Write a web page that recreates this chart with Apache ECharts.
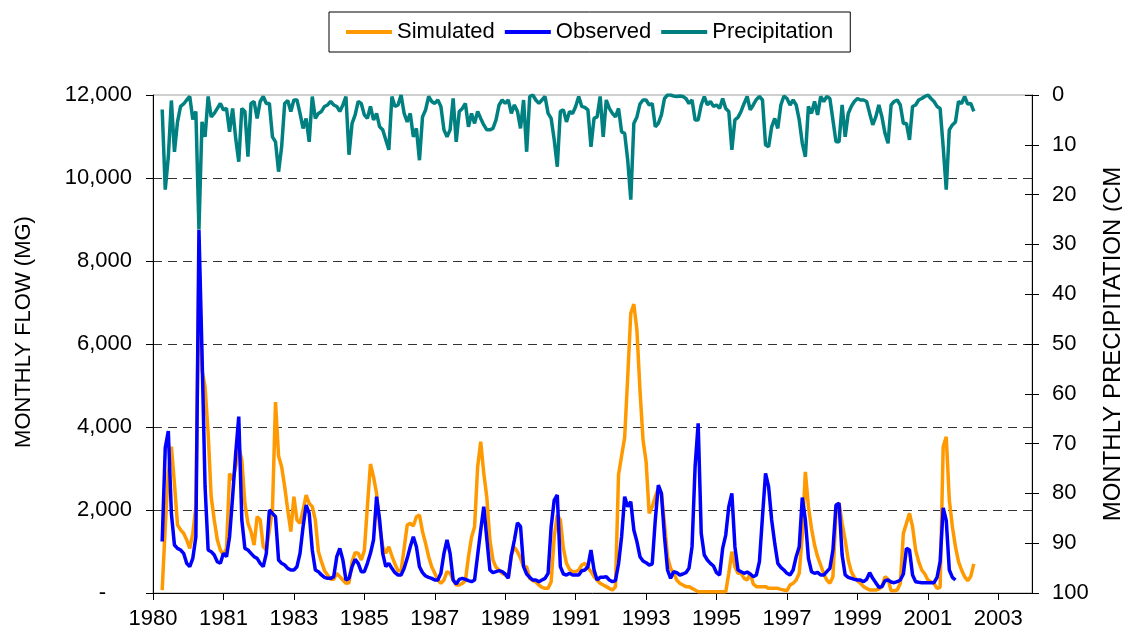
<!DOCTYPE html>
<html><head><meta charset="utf-8">
<script src="https://cdn.jsdelivr.net/npm/echarts@6/dist/echarts.min.js"></script>
<style>html,body{margin:0;padding:0;background:#fff}#c{width:1122px;height:636px}</style>
</head><body><div id="c"></div>
<script>
const seriesNames = ['Simulated', 'Observed', 'Precipitation'];
const baseYear = 1980;
const firstMonth = 3;               // months after Jan 1980 (April 1980)
const xTickMonths = [0, 23, 46, 69, 92, 115, 138, 161, 184, 207, 230, 253, 276];
const xMaxMonth = 287;

const simulated = [70,1600,2880,3525,2640,1640,1520,1440,1280,1076,1440,2080,7800,5370,4970,3850,2320,1760,1280,1036,915,1076,2880,2720,3040,3525,3200,2160,1680,1480,1156,1840,1760,1116,1036,1520,2000,4600,3300,3040,2560,2000,1480,2320,1760,1680,2000,2360,2160,2080,1760,1000,
755,538,434,329,329,474,393,313,233,249,755,972,956,795,1020,2080,3108,2800,2400,1600,1116,956,1116,891,699,538,538,1076,1638,1678,1614,1839,1879,1478,1196,875,634,474,313,233,313,514,474,313,193,193,233,297,875,1341,1598,3043,3645,2883,2300,
1277,795,618,554,474,434,393,915,1100,996,835,634,634,353,297,265,193,137,112,112,273,1357,1879,1759,1076,715,570,514,514,554,675,715,618,514,393,313,233,193,153,112,72,150,2850,3300,3750,5210,6740,6960,6335,4890,3686,3164,1919,2080,2320,2521,2400,1678,875,594,474,313,233,193,153,153,112,72,32,32,32,32,32,32,32,32,32,32,474,996,634,474,474,353,313,474,217,153,153,153,153,112,112,112,112,88,72,56,193,233,313,474,
1400,2920,2080,1558,1156,875,675,458,313,233,393,1919,2176,1678,1277,795,514,377,297,233,153,112,72,72,72,96,153,393,329,56,56,72,233,1437,1678,1919,1598,1036,755,554,458,313,273,233,112,137,3525,3766,2240,1598,1116,755,554,393,297,400,700];

const observed = [1240,3500,3900,1920,1156,1076,1036,956,715,634,835,1357,8750,5774,2562,1036,996,915,755,715,956,875,1357,2320,3365,4250,1759,1076,1036,956,875,835,715,634,956,2000,1919,1839,795,715,675,594,554,554,634,956,1598,2120,1919,1036,554,514,
434,377,353,353,393,875,1076,795,313,353,634,811,715,514,514,715,956,1277,2320,1760,956,634,715,594,490,434,434,594,835,1116,1357,1116,634,490,410,377,353,313,313,474,956,1277,956,313,217,329,353,329,297,273,313,915,1518,2080,1300,
554,490,514,538,514,458,353,915,1277,1694,1598,634,458,377,313,313,273,313,353,474,1598,2240,2361,634,458,434,474,434,434,434,538,554,634,1036,554,313,377,380,393,313,273,300,700,1357,2320,2080,2200,1518,1237,875,771,731,675,699,1759,2600,2400,1357,554,353,514,490,434,458,490,594,1116,3043,4087,1437,915,795,715,650,490,434,1076,1397,2080,2400,1116,554,514,474,506,458,393,434,755,1839,2883,2561,1759,1196,715,618,554,474,434,554,875,1116,
2300,1759,835,514,474,498,434,434,514,594,1036,2120,2160,915,434,377,353,329,313,313,273,329,490,353,249,137,153,297,313,265,249,273,313,458,1076,1036,434,273,257,249,249,249,249,249,377,755,2050,1750,554,377,313];

const precipitation = [2.9,19,12.4,1.1,11.4,5.4,2.3,1.8,1.0,0.3,4.9,3.3,27,5.4,8.4,0.3,4.4,3.7,2.7,1.7,3.0,2.7,7.4,2.7,8.7,13.4,2.7,3.3,12.4,1.7,1.3,4.7,1.3,0.3,1.7,1.7,8.4,9.4,15.4,10.4,1.7,1.1,3.3,1.0,1.0,3.7,6.7,4.7,9.4,0.3,4.7,3.7,
3.3,2.3,2.0,1.3,2.0,2.3,3.3,2.0,0.3,12.0,5.7,4.0,1.3,1.7,4.0,4.7,2.3,5.0,3.7,6.4,7.0,9.0,11.0,0.3,2.3,2.0,0,3.7,5.4,3.7,8.4,6.7,13.1,4.4,3.0,0.3,1.3,1.7,1.0,2.3,7.0,8.4,7.0,0.7,9.4,3.3,2.7,1.7,6.4,3.7,5.7,3.3,4.7,6.0,7.0,
7.0,6.7,5.0,2.0,1.0,1.7,1.0,3.7,2.0,3.3,6.7,1.0,11.4,0.3,0,1.0,1.7,1.0,0.3,3.7,4.7,9.0,14.4,3.3,3.0,5.4,3.3,3.7,2.3,0.3,2.3,2.5,3.0,10.4,4.7,4.4,0.3,8.4,1.0,2.7,3.7,4.4,2.7,7.4,7.7,13.1,21,5.7,4.4,1.8,1.0,1.0,2.0,1.7,6.4,5.7,4.0,0.7,0,0,0.2,0.3,0.2,0.3,0.7,1.7,1.0,5.0,5.0,2.0,0.3,2.0,1.3,2.3,2.0,2.7,0.7,2.7,3.3,11.0,5.0,4.5,3.3,1.7,0.3,3.0,2.0,0.9,0.3,1.0,10.0,10.4,6.4,4.7,6.7,2.0,0.2,0.7,2.0,1.0,2.0,5.0,
9.7,12.4,2.3,3.7,1.3,4.0,0.3,1.3,0.3,0.7,5.0,9.4,9.4,2.0,8.4,3.7,2.3,1.3,0.7,1.0,1.0,1.3,3.7,6.0,4.4,2.0,4.4,7.7,9.7,2.0,1.3,1.0,2.0,5.7,5.7,9.0,2.3,2.0,1.0,0.7,0.3,0,0.7,1.3,2.3,2.7,10.4,19,7.0,6.0,5.4,1.3,1.7,0.3,1.8,1.7,3.3];

const toPairs = arr => arr.map((v, k) => [firstMonth + k, v]);
const FONT = '"Liberation Sans", Arial, sans-serif';
const black = '#000';

const chart = echarts.init(document.getElementById('c'), null, {renderer: 'canvas'});
chart.setOption({
  animation: false,
  backgroundColor: '#fff',
  textStyle: {fontFamily: FONT},
  grid: {left: 153, right: 90, top: 95, bottom: 43, show: true, borderColor: '#a0a0a0', borderWidth: 1,
    containLabel: false, outerBoundsMode: 'none'},
  legend: {
    data: seriesNames, left: 329, top: 12, padding: [9, 17, 9, 17],
    borderColor: black, borderWidth: 1, itemWidth: 46, itemHeight: 4, itemGap: 10, icon: 'rect',
    textStyle: {fontSize: 22, color: black, fontFamily: FONT}
  },
  xAxis: {
    type: 'value', min: 0, max: xMaxMonth,
    axisLine: {lineStyle: {color: black, width: 1}},
    axisTick: {show: true, length: 7, lineStyle: {color: black}, customValues: xTickMonths},
    axisLabel: {customValues: xTickMonths, fontSize: 22, color: black, fontFamily: FONT, margin: 15,
      formatter: v => String(baseYear + Math.floor(v / 12))},
    splitLine: {show: false}
  },
  yAxis: [{
    type: 'value', min: 0, max: 12000, interval: 2000, position: 'left',
    name: 'MONTHLY FLOW (MG)', nameLocation: 'middle', nameGap: 118, nameRotate: 90,
    nameTextStyle: {fontSize: 22, color: black, fontFamily: FONT, padding: [0, 0, 0, 24]},
    axisLine: {show: true, lineStyle: {color: black, width: 1}},
    axisTick: {show: true, length: 7, lineStyle: {color: black}},
    axisLabel: {fontSize: 22, color: black, fontFamily: FONT, margin: 21,
      formatter: v => v === 0 ? '{d|-}' : v.toLocaleString('en-US'),
      rich: {d: {fontSize: 22, fontFamily: FONT, color: black, padding: [0, 26, 0, 0]}}},
    splitLine: {show: true, showMinLine: false, showMaxLine: false, lineStyle: {color: '#333', type: [9, 6], width: 1}}
  }, {
    type: 'value', min: 0, max: 100, interval: 10, inverse: true, position: 'right',
    name: 'MONTHLY PRECIPITATION (CM', nameLocation: 'middle', nameGap: 69, nameRotate: 90,
    nameTextStyle: {fontSize: 24, color: black, fontFamily: FONT},
    axisLine: {show: true, lineStyle: {color: black, width: 1}},
    axisTick: {show: true, length: 7, lineStyle: {color: black}},
    axisLabel: {fontSize: 22, color: black, fontFamily: FONT, margin: 20},
    splitLine: {show: false}
  }, {
    type: 'value', min: 0, max: 100, interval: 10, inverse: true, position: 'right',
    axisLine: {show: false},
    axisTick: {show: true, inside: true, length: 7, lineStyle: {color: black}},
    axisLabel: {show: false},
    splitLine: {show: false}
  }],
  series: [
    {name: seriesNames[0], type: 'line', data: toPairs(simulated), yAxisIndex: 0, showSymbol: false, symbol: 'none',
      lineStyle: {color: '#FF9900', width: 3.5}, itemStyle: {color: '#FF9900'}},
    {name: seriesNames[1], type: 'line', data: toPairs(observed), yAxisIndex: 0, showSymbol: false, symbol: 'none',
      lineStyle: {color: '#0000FF', width: 3.5}, itemStyle: {color: '#0000FF'}},
    {name: seriesNames[2], type: 'line', data: toPairs(precipitation), yAxisIndex: 1, showSymbol: false, symbol: 'none',
      lineStyle: {color: '#008080', width: 3.5}, itemStyle: {color: '#008080'}}
  ]
});
</script>
</body></html>
